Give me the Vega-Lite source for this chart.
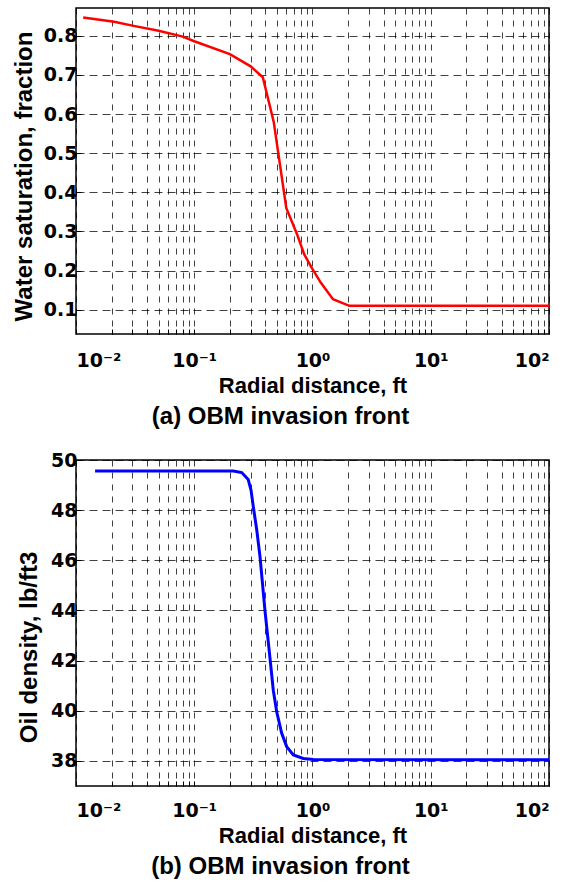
{
  "$schema": "https://vega.github.io/schema/vega-lite/v6.json",
  "background": "white",
  "padding": {"left": 11, "top": 7, "right": 0, "bottom": 0},
  "spacing": 20,
  "config": {
    "font": "Liberation Sans",
    "view": {"stroke": "black", "strokeWidth": 1.5},
    "axis": {
      "domain": false,
      "grid": true,
      "gridColor": "#000000",
      "gridOpacity": 0.75,
      "gridWidth": 1,
      "tickColor": "#000000",
      "tickSize": -5,
      "tickWidth": 1,
      "labelColor": "#000000",
      "labelFont": "DejaVu Sans",
      "labelFontWeight": "bold",
      "labelFontSize": 19,
      "labelOverlap": false,
      "titleColor": "#000000",
      "titleFont": "Liberation Sans",
      "titleFontWeight": "bold"
    },
    "title": {"font": "Liberation Sans", "fontWeight": "bold", "fontSize": 24, "color": "#000000"}
  },
  "datasets": {
    "saturation": [
      {"r": 0.0115, "sw": 0.847},
      {"r": 0.021, "sw": 0.836},
      {"r": 0.03, "sw": 0.826},
      {"r": 0.05, "sw": 0.813},
      {"r": 0.08, "sw": 0.798},
      {"r": 0.1, "sw": 0.786},
      {"r": 0.2, "sw": 0.753},
      {"r": 0.3, "sw": 0.722},
      {"r": 0.38, "sw": 0.694},
      {"r": 0.47, "sw": 0.58},
      {"r": 0.6, "sw": 0.36},
      {"r": 0.74, "sw": 0.293},
      {"r": 0.85, "sw": 0.242},
      {"r": 0.98, "sw": 0.208},
      {"r": 1.17, "sw": 0.17},
      {"r": 1.49, "sw": 0.127},
      {"r": 2.05, "sw": 0.11},
      {"r": 100, "sw": 0.11}
    ],
    "density": [
      {"r": 0.0145, "rho": 49.56},
      {"r": 0.214, "rho": 49.56},
      {"r": 0.252, "rho": 49.5},
      {"r": 0.286, "rho": 49.22},
      {"r": 0.302, "rho": 48.8},
      {"r": 0.316, "rho": 48.13},
      {"r": 0.338, "rho": 47.2},
      {"r": 0.36, "rho": 46.14},
      {"r": 0.396, "rho": 44.01},
      {"r": 0.437, "rho": 42.1},
      {"r": 0.466, "rho": 40.82},
      {"r": 0.498, "rho": 39.96},
      {"r": 0.549, "rho": 39.1},
      {"r": 0.605, "rho": 38.57},
      {"r": 0.689, "rho": 38.24},
      {"r": 0.836, "rho": 38.1},
      {"r": 1.016, "rho": 38.06},
      {"r": 100, "rho": 38.05}
    ]
  },
  "vconcat": [
    {
      "width": 473,
      "height": 326,
      "data": {"name": "saturation"},
      "title": {"text": "(a) OBM invasion front", "orient": "bottom", "anchor": "middle", "dx": -32, "offset": 9},
      "mark": {"type": "line", "color": "#ff0000", "strokeWidth": 2.5},
      "encoding": {
        "x": {
          "field": "r",
          "type": "quantitative",
          "scale": {"type": "log", "domain": [0.01, 100], "nice": false},
          "axis": {
            "title": "Radial distance, ft",
            "titleFontSize": 22,
            "titlePadding": 5,
            "gridDash": [6, 6],
            "labelPadding": 22,
            "values": [0.01, 0.02, 0.03, 0.04, 0.05, 0.06, 0.07, 0.08, 0.09, 0.1, 0.2, 0.3, 0.4, 0.5, 0.6, 0.7, 0.8, 0.9, 1, 2, 3, 4, 5, 6, 7, 8, 9, 10, 20, 30, 40, 50, 60, 70, 80, 90, 100],
            "labelExpr": "datum.value == 0.01 ? '10⁻²' : datum.value == 0.1 ? '10⁻¹' : datum.value == 1 ? '10⁰' : datum.value == 10 ? '10¹' : datum.value == 100 ? '10²' : ''"
          }
        },
        "y": {
          "field": "sw",
          "type": "quantitative",
          "scale": {"domain": [0.038, 0.871], "nice": false, "zero": false},
          "axis": {
            "title": "Water saturation, fraction",
            "titleFontSize": 24,
            "titlePadding": 7,
            "titleY": 168,
            "gridDash": [8, 5],
            "labelPadding": 4,
            "values": [0.1, 0.2, 0.3, 0.4, 0.5, 0.6, 0.7, 0.8],
            "format": ".1f"
          }
        }
      }
    },
    {
      "width": 473,
      "height": 326,
      "data": {"name": "density"},
      "title": {"text": "(b) OBM invasion front", "orient": "bottom", "anchor": "middle", "dx": -32, "offset": 9},
      "mark": {"type": "line", "color": "#0000ff", "strokeWidth": 3},
      "encoding": {
        "x": {
          "field": "r",
          "type": "quantitative",
          "scale": {"type": "log", "domain": [0.01, 100], "nice": false},
          "axis": {
            "title": "Radial distance, ft",
            "titleFontSize": 22,
            "titlePadding": 5,
            "gridDash": [6, 6],
            "labelPadding": 20,
            "values": [0.01, 0.02, 0.03, 0.04, 0.05, 0.06, 0.07, 0.08, 0.09, 0.1, 0.2, 0.3, 0.4, 0.5, 0.6, 0.7, 0.8, 0.9, 1, 2, 3, 4, 5, 6, 7, 8, 9, 10, 20, 30, 40, 50, 60, 70, 80, 90, 100],
            "labelExpr": "datum.value == 0.01 ? '10⁻²' : datum.value == 0.1 ? '10⁻¹' : datum.value == 1 ? '10⁰' : datum.value == 10 ? '10¹' : datum.value == 100 ? '10²' : ''"
          }
        },
        "y": {
          "field": "rho",
          "type": "quantitative",
          "scale": {"domain": [37, 50], "nice": false, "zero": false},
          "axis": {
            "title": "Oil density, lb/ft3",
            "titleFontSize": 24,
            "titlePadding": 9,
            "titleY": 187,
            "gridDash": [8, 5],
            "labelPadding": 4,
            "values": [38, 40, 42, 44, 46, 48, 50]
          }
        }
      }
    }
  ]
}
